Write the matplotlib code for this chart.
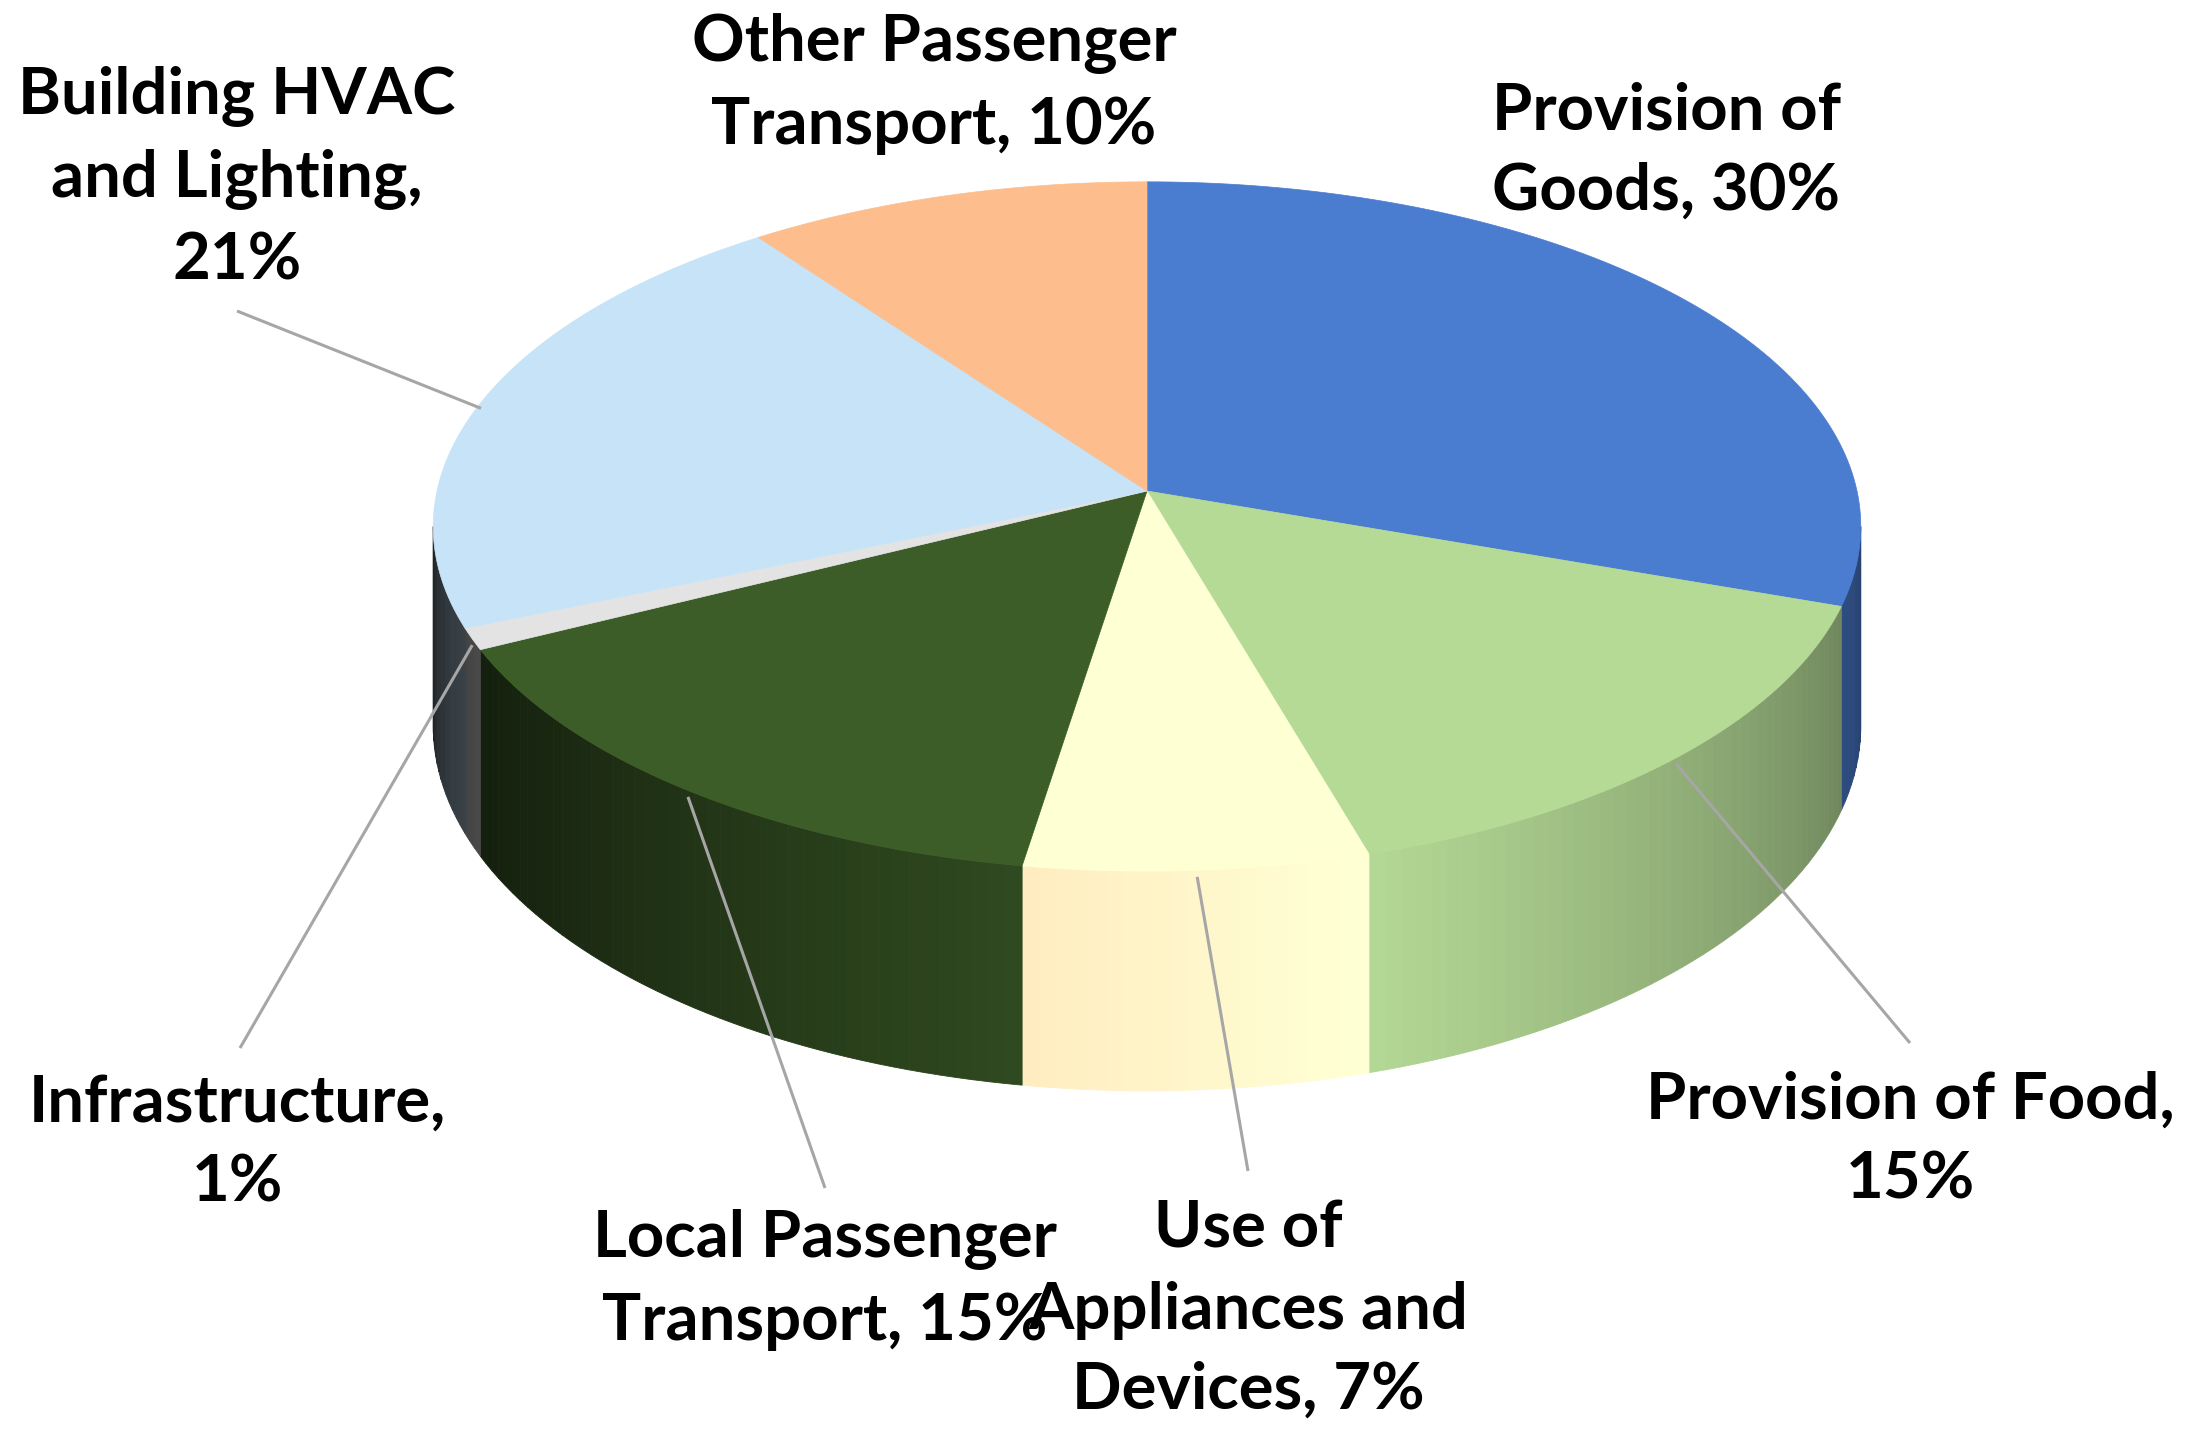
import numpy as np
import matplotlib
matplotlib.use("Agg")
from matplotlib import pyplot as plt
from matplotlib.patches import Polygon

# data (clockwise from 12 o'clock)
labels = ["Provision of\nGoods, 30%", "Provision of Food,\n15%",
          "Use of\nAppliances and\nDevices, 7%", "Local Passenger\nTransport, 15%",
          "Infrastructure,\n1%", "Building HVAC\nand Lighting,\n21%",
          "Other Passenger\nTransport, 10%"]
shares = [30, 15, 7, 15, 1, 21, 10]

colors = ["#4A7CD0", "#B5DA96", "#FFFFD4", "#3C5D28", "#E3E3E3", "#C7E3F7", "#FDBD8C"]
# how strongly each channel of a slice side gets darkened
side_tint = [(1, 1, 1), (1, 1, 1), (0, 0.35, 0.45), (1, 1, 1),
             (1, 1, 1), (1, 1, 1), (1, 1, 1)]

# label centres (px) and where the leader line leaves the label (None = no leader)
label_xy = [(1666, 151), (1910, 1140), (1248, 1310), (825, 1280),
            (237, 1143), (237, 178), (934, 84)]
leader_from = [None, (1910, 1043), (1248, 1171), (825, 1188),
               (240, 1048), (237, 311), None]

# projection of the tilted disc
W, H = 2186, 1429
cx, cy = 1147, 491
A, B, k = 710, 341, 0.103
depth = 197


def proj(theta, z=0.0):
    x = np.sin(theta)
    y = -np.cos(theta)
    w = 1 - k * y
    return cx + A * x / w, cy + B * y / w + z * depth / w


def shade(deg):
    if deg <= 165:
        return 1 - 0.48 * (165 - deg) / 70
    return max(0.1, 1 - 0.85 * (deg - 165) / 99)


fig = plt.figure(figsize=(W / 100, H / 100), dpi=100)
ax = fig.add_axes([0, 0, 1, 1])
ax.set_xlim(0, W)
ax.set_ylim(H, 0)
ax.axis("off")

frac = np.array(shares, dtype=float) / sum(shares)
edges = np.concatenate([[0], np.cumsum(frac)]) * 2 * np.pi
th_r = np.arccos(-k)
th_l = 2 * np.pi - th_r

# sides
for i, c in enumerate(colors):
    a0 = max(edges[i], th_r)
    a1 = min(edges[i + 1], th_l)
    if a1 <= a0:
        continue
    base = np.array(matplotlib.colors.to_rgb(c))
    tint = np.array(side_tint[i])
    n = max(2, int(np.degrees(a1 - a0) / 1.2))
    t = np.linspace(a0, a1, n + 1)
    for j in range(n):
        tt = np.linspace(t[j], t[j + 1], 4)
        xt, yt = proj(tt)
        xb, yb = proj(tt[::-1], 1.0)
        f = shade(np.degrees((t[j] + t[j + 1]) / 2))
        col = np.clip(base * (1 - (1 - f) * tint), 0, 1)
        ax.add_patch(Polygon(np.column_stack([np.r_[xt, xb], np.r_[yt, yb]]),
                             closed=True, fc=col, ec=col, lw=0.6))

# top face
for i, c in enumerate(colors):
    tt = np.linspace(edges[i], edges[i + 1], max(3, int(np.degrees(edges[i + 1] - edges[i]))))
    xt, yt = proj(tt)
    pts = np.column_stack([np.r_[cx, xt], np.r_[cy, yt]])
    ax.add_patch(Polygon(pts, closed=True, fc=c, ec=c, lw=0.5))

# leader lines and labels
for i, lab in enumerate(labels):
    if leader_from[i] is not None:
        mid = (edges[i] + edges[i + 1]) / 2
        ex, ey = proj(mid, 0.03)
        ax.plot([leader_from[i][0], ex], [leader_from[i][1], ey],
                color="#A6A6A6", lw=2.2, solid_capstyle="butt")
    ax.text(label_xy[i][0], label_xy[i][1], lab, ha="center", va="center",
            fontsize=47, fontweight="bold", family=["Lato", "DejaVu Sans"],
            linespacing=1.45, color="black")

fig.savefig("out.png", dpi=100, facecolor="white")
